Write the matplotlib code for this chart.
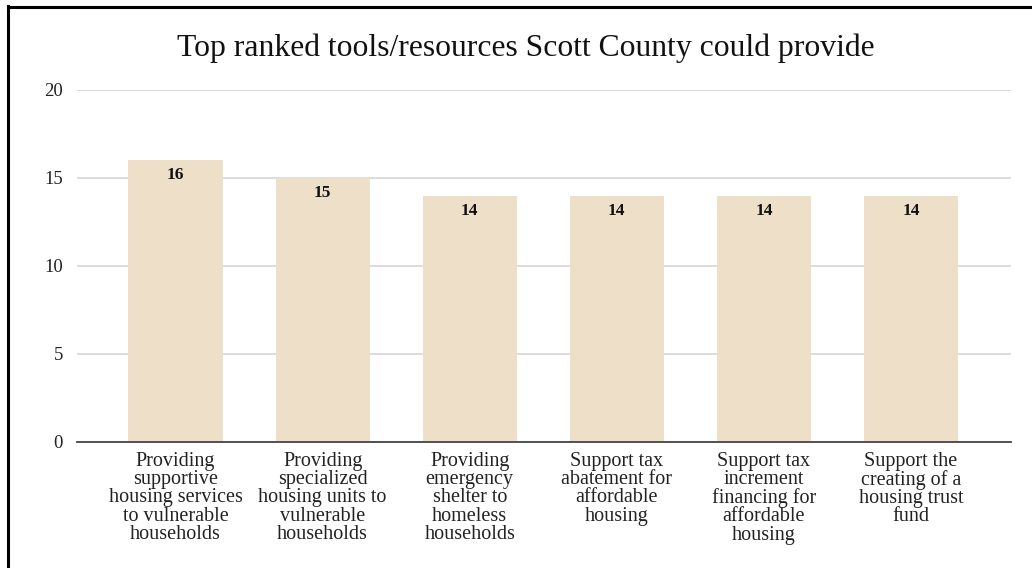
import matplotlib
matplotlib.use("Agg")
import matplotlib.pyplot as plt
from matplotlib.lines import Line2D

title = "Top ranked tools/resources Scott County could provide"
categories = [
    "Providing\nsupportive\nhousing services\nto vulnerable\nhouseholds",
    "Providing\nspecialized\nhousing units to\nvulnerable\nhouseholds",
    "Providing\nemergency\nshelter to\nhomeless\nhouseholds",
    "Support tax\nabatement for\naffordable\nhousing",
    "Support tax\nincrement\nfinancing for\naffordable\nhousing",
    "Support the\ncreating of a\nhousing trust\nfund",
]
values = [16, 15, 14, 14, 14, 14]
yticks = [0, 5, 10, 15, 20]

plt.rcParams['font.family'] = ['Liberation Serif', 'DejaVu Serif']

fig = plt.figure(figsize=(10.32, 5.68), dpi=100)
fig.patch.set_facecolor('white')
ax = fig.add_axes([77/1032, 1-442/568, (1011-77)/1032, (442-90)/568])

x = list(range(len(values)))
bars = ax.bar(x, values, width=0.64, color='#EEDFC8', zorder=2)
for xi, v in zip(x, values):
    ax.annotate(str(v), (xi, v), xytext=(0, -15), textcoords='offset pixels',
                ha='center', va='center', fontsize=12.5, fontweight='bold', color='#111111')

ax.set_xlim(-0.67, 5.68)
ax.set_ylim(0, 20)
ax.set_yticks(yticks)
ax.set_yticklabels([str(t) for t in yticks], fontsize=13.5, color='#222222')
ax.set_xticks(x)
ax.set_xticklabels(categories, fontsize=14.5, color='#222222', linespacing=0.95,
                   multialignment='center')
ax.tick_params(axis='both', length=0)
ax.tick_params(axis='y', pad=10)
ax.tick_params(axis='x', pad=7)
ax.grid(axis='y', color='#d9d9d9', linewidth=1.3, zorder=0)
for s in ['top', 'right', 'left']:
    ax.spines[s].set_visible(False)
ax.spines['bottom'].set_color('#444444')
ax.spines['bottom'].set_linewidth(1.3)
ax.spines['bottom'].set_zorder(3)

fig.text(526/1032, 1-48/568, title, ha='center', va='center', fontsize=22.8, color='#111111')

# outer frame (left and top edges)
fig.add_artist(Line2D([7.5/1032, 7.5/1032], [0, 1-6/568], transform=fig.transFigure, color='black', linewidth=2.2))
fig.add_artist(Line2D([7.5/1032, 1], [1-6.5/568, 1-6.5/568], transform=fig.transFigure, color='black', linewidth=2.2))

fig.savefig('out.png', dpi=100)
